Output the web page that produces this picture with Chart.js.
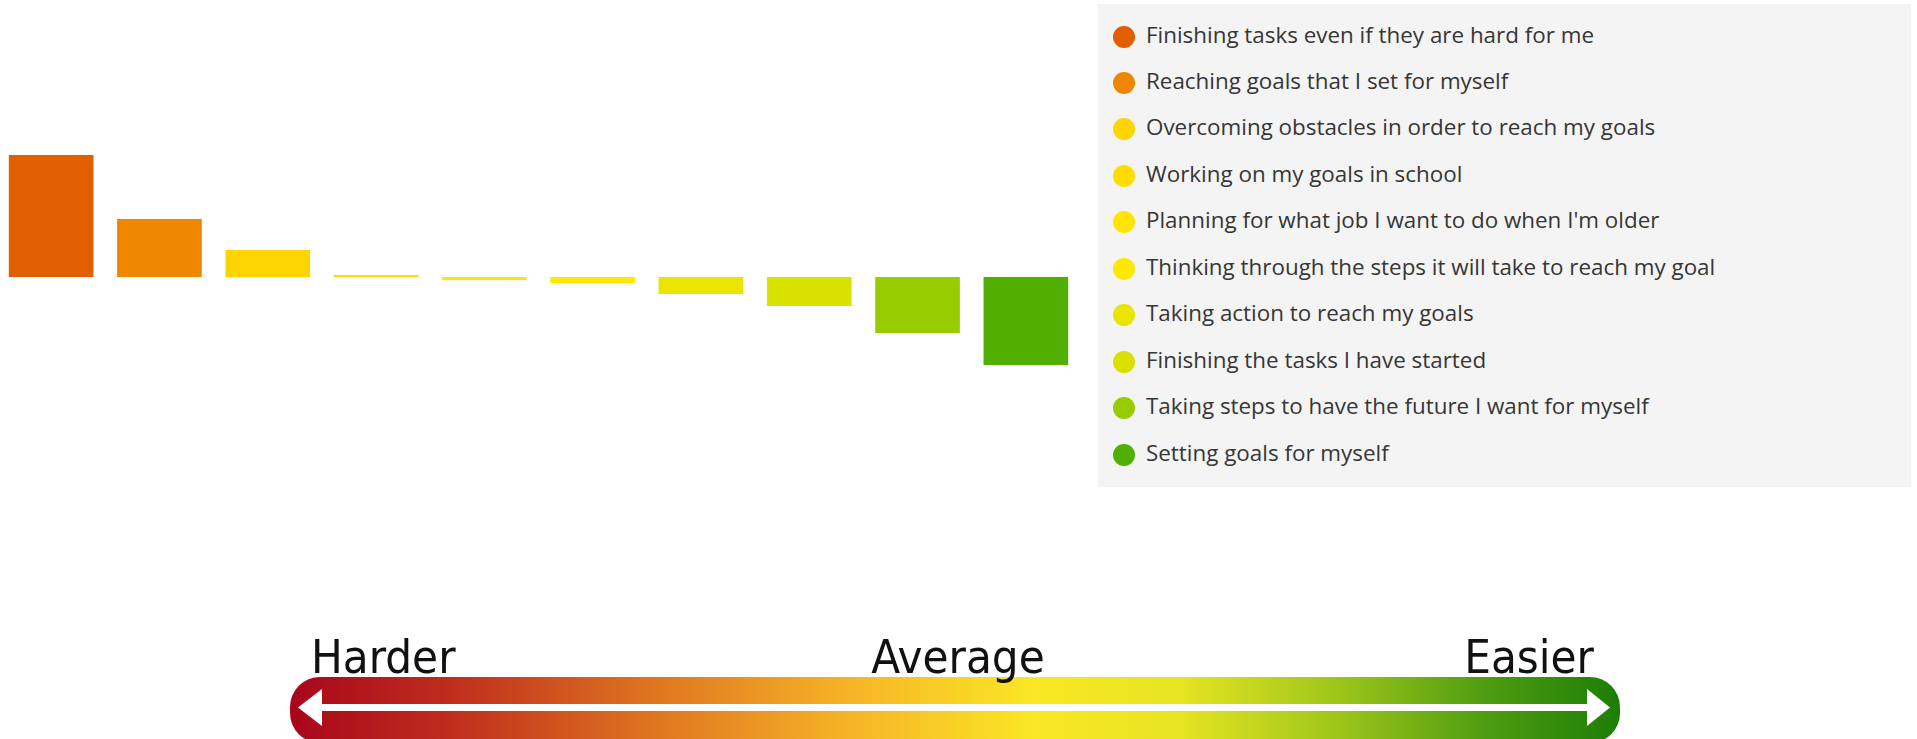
<!DOCTYPE html>
<html>
<head>
<meta charset="utf-8">
<script src="https://cdn.jsdelivr.net/npm/chart.js@4/dist/chart.umd.min.js"></script>
<style>
  html, body { margin: 0; padding: 0; background: #fff; overflow: hidden; }
  body { width: 1917px; height: 739px; position: relative; }
  #wrap { position: absolute; left: -3px; top: 0; width: 1083px; height: 440px; }
  #leyenda {
    position: absolute; left: 1098px; top: 4px; width: 813px; height: 483px;
    background: #f4f4f4; font-family: "Open Sans", sans-serif; font-size: 22.4px; color: #363636;
  }
  .fila { position: absolute; left: 0; height: 30px; line-height: 30px; white-space: nowrap; }
  .punto { position: absolute; left: 15px; top: 4px; width: 22px; height: 22px; border-radius: 50%; }
  .texto { position: absolute; left: 48px; top: -2px; }
  #escala { position: absolute; left: 0; top: 0; }
</style>
</head>
<body>
<div id="wrap"><canvas id="grafico"></canvas></div>
<div id="leyenda"></div>
<svg id="escala" width="1917" height="739">
  <defs>
    <linearGradient id="degradado" x1="290" y1="0" x2="1620" y2="0" gradientUnits="userSpaceOnUse">
      <stop offset="0" stop-color="#a8061b"/>
      <stop offset="0.12" stop-color="#bf2d1d"/>
      <stop offset="0.27" stop-color="#de7420"/>
      <stop offset="0.42" stop-color="#f6b427"/>
      <stop offset="0.56" stop-color="#fae725"/>
      <stop offset="0.67" stop-color="#e6e422"/>
      <stop offset="0.79" stop-color="#9cc51b"/>
      <stop offset="0.9" stop-color="#4e9c10"/>
      <stop offset="1" stop-color="#1d7d05"/>
    </linearGradient>
  </defs>
  <rect x="290" y="677" width="1330" height="66" rx="30" ry="30" fill="url(#degradado)"/>
  <rect x="318" y="704" width="1274" height="7" fill="#fff"/>
  <polygon points="298,707.5 322,689 322,726" fill="#fff"/>
  <polygon points="1610,707.5 1587,689 1587,726" fill="#fff"/>
  <g font-family="'DejaVu Sans Condensed', 'DejaVu Sans', sans-serif" font-stretch="condensed" font-size="47" fill="#111">
    <text x="311" y="673">Harder</text>
    <text x="958" y="673" text-anchor="middle">Average</text>
    <text x="1594" y="673" text-anchor="end">Easier</text>
  </g>
</svg>
<script>
// Categorías (de más difícil a más fácil)
const categorias = [
  "Finishing tasks even if they are hard for me",
  "Reaching goals that I set for myself",
  "Overcoming obstacles in order to reach my goals",
  "Working on my goals in school",
  "Planning for what job I want to do when I'm older",
  "Thinking through the steps it will take to reach my goal",
  "Taking action to reach my goals",
  "Finishing the tasks I have started",
  "Taking steps to have the future I want for myself",
  "Setting goals for myself"
];

// Diferencia respecto a la media
const valores = [1.23, 0.59, 0.28, 0.03, -0.04, -0.07, -0.18, -0.30, -0.57, -0.89];

const colores = ["#e15f00", "#ef8600", "#ffd400", "#ffdc00", "#ffe500", "#ffe800", "#e9e500", "#d9e100", "#96cc00", "#50af00"];

// Leyenda en HTML
const leyenda = document.getElementById("leyenda");
categorias.forEach(function(cat, i) {
    const fila = document.createElement("div");
    fila.className = "fila";
    fila.style.top = (17.5 + i * 46.45) + "px";
    fila.innerHTML = '<span class="punto" style="background:' + colores[i] + '"></span><span class="texto"></span>';
    fila.querySelector(".texto").textContent = cat;
    leyenda.appendChild(fila);
});

const ctx = document.getElementById("grafico").getContext("2d");
new Chart(ctx, {
    type: "bar",
    data: {
        labels: categorias,
        datasets: [{
            label: "Difficulty",
            data: valores,
            backgroundColor: colores,
            borderColor: "rgba(255,255,255,0.45)",
            borderWidth: 1,
            barPercentage: 0.8,
            categoryPercentage: 1
        }]
    },
    options: {
        responsive: true,
        maintainAspectRatio: false,
        animation: false,
        layout: { padding: 0 },
        plugins: { legend: { display: false }, tooltip: { enabled: false } },
        scales: {
            x: { display: false },
            y: { display: false, min: -1.63, max: 2.77 }
        }
    }
});
</script>
</body>
</html>
